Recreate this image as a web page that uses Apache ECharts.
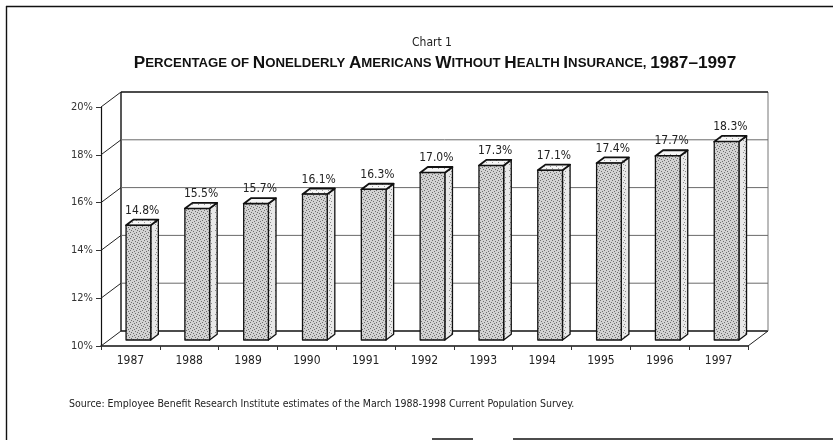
<!DOCTYPE html>
<html>
<head>
<meta charset="utf-8">
<script src="https://cdn.jsdelivr.net/npm/echarts@6/dist/echarts.min.js"></script>
<style>
  html, body { margin: 0; padding: 0; background: #fff; }
  #chart { width: 833px; height: 440px; }
</style>
</head>
<body>
<div id="chart"></div>
<script>
// ---- data ----
const years = ['1987','1988','1989','1990','1991','1992','1993','1994','1995','1996','1997'];
const uninsuredPct = [14.8, 15.5, 15.7, 16.1, 16.3, 17.0, 17.3, 17.1, 17.4, 17.7, 18.3];
const yTicks = [10, 12, 14, 16, 18, 20];
const chartLabel = 'Chart 1';
const titleWords = ['Percentage', 'of', 'Nonelderly', 'Americans', 'Without', 'Health', 'Insurance,', '1987–1997'];
const sourceNote = 'Source: Employee Benefit Research Institute estimates of the March 1988-1998 Current Population Survey.';

// ---- styling helpers ----
const NARROW = "'Liberation Sans Narrow', 'DejaVu Sans Condensed', 'Liberation Sans', sans-serif";
const DEPTH = [20, -15];          // wall depth offset (front plane -> back wall)
const BAR_FRONT = 0.4;            // bar front face position within depth
const BAR_DEPTH = 0.38;           // bar depth as share of wall depth

function makePattern(bg, dot, step) {
  const c = document.createElement('canvas');
  c.width = 6; c.height = 6;
  const g = c.getContext('2d');
  g.fillStyle = bg; g.fillRect(0, 0, 6, 6);
  g.fillStyle = dot;
  const pts = [[0,0],[3,1],[1,3],[4,4],[5,2],[2,5]];
  for (let k = 0; k < pts.length; k += step) g.fillRect(pts[k][0], pts[k][1], 1, 1);
  return { image: c, repeat: 'repeat' };
}
const frontFill = makePattern('#d2d2d2', '#6e6e6e', 1);
const sideFill = makePattern('#e8e8e8', '#8a8a8a', 2);
const topFill = makePattern('#f6f6f6', '#999999', 3);

// small-caps title as rich text
function smallCaps(words) {
  return words.map(w => {
    if (/^[0-9]/.test(w)) return '{c|' + w + '}';
    if (w === 'of') return '{s|' + w.toUpperCase() + '}';
    return '{c|' + w[0] + '}{s|' + w.slice(1).toUpperCase() + '}';
  }).join('{s| }');
}

const chart = echarts.init(document.getElementById('chart'), null, { renderer: 'canvas' });

const option = {
  animation: false,
  backgroundColor: '#ffffff',
  title: [
    {
      text: chartLabel, left: 427, top: 32, textAlign: 'center',
      textStyle: { fontFamily: NARROW, fontSize: 12, fontWeight: 'normal', color: '#222' }
    },
    {
      text: smallCaps(titleWords), left: 430, top: 50, textAlign: 'center',
      textStyle: {
        rich: {
          c: { fontFamily: "'Liberation Sans', Arial, sans-serif", fontSize: 17.2, fontWeight: 'bold', color: '#111' },
          s: { fontFamily: "'Liberation Sans', Arial, sans-serif", fontSize: 13.2, fontWeight: 'bold', color: '#111' }
        }
      }
    }
  ],
  grid: { left: 101, top: 107, width: 647, height: 239, containLabel: false },
  xAxis: {
    type: 'category',
    data: years,
    boundaryGap: true,
    axisLine: { show: true, lineStyle: { color: '#111', width: 1.5 } },
    axisTick: { show: true, length: 4, lineStyle: { color: '#333' } },
    axisLabel: { margin: 9, fontFamily: NARROW, fontSize: 12, color: '#222' },
    splitLine: { show: false }
  },
  yAxis: {
    type: 'value',
    min: 10, max: 20, interval: 2,
    axisLine: { show: true, lineStyle: { color: '#111', width: 1.2 } },
    axisTick: { show: true, length: 5, lineStyle: { color: '#333' } },
    axisLabel: { margin: 8, fontFamily: NARROW, fontSize: 11, color: '#333', formatter: '{value}%' },
    splitLine: { show: false }
  },
  series: [
    {
      // 3D walls: back wall gridlines + side-wall diagonals, driven by tick values
      type: 'custom',
      name: 'walls',
      clip: false,
      silent: true,
      z: 1,
      data: yTicks.map(v => [0, v]),
      renderItem: function (params, api) {
        const v = api.value(1);
        const bw = api.size([1, 0])[0];
        const pL = api.coord([0, v]);
        const pR = api.coord([years.length - 1, v]);
        const xL = pL[0] - bw / 2, xR = pR[0] + bw / 2, y = pL[1];
        const bxL = xL + DEPTH[0], bxR = xR + DEPTH[0], by = y + DEPTH[1];
        const isEdge = (v === yTicks[0] || v === yTicks[yTicks.length - 1]);
        const children = [
          { type: 'line', shape: { x1: xL, y1: y, x2: bxL, y2: by },
            style: { stroke: '#222', lineWidth: 1 } },
          { type: 'line', shape: { x1: bxL, y1: by, x2: bxR, y2: by },
            style: { stroke: isEdge ? '#111' : '#6a6a6a', lineWidth: isEdge ? 1.4 : 1 } }
        ];
        if (v === yTicks[0]) {
          const topY = api.coord([0, yTicks[yTicks.length - 1]])[1] + DEPTH[1];
          children.push(
            { type: 'line', shape: { x1: xR, y1: y, x2: bxR, y2: by }, style: { stroke: '#222', lineWidth: 1 } },
            { type: 'line', shape: { x1: bxL, y1: by, x2: bxL, y2: topY }, style: { stroke: '#111', lineWidth: 1.4 } },
            { type: 'line', shape: { x1: bxR, y1: by, x2: bxR, y2: topY }, style: { stroke: '#777', lineWidth: 1 } }
          );
        }
        return { type: 'group', children: children };
      }
    },
    {
      // 3D bars
      type: 'custom',
      name: 'uninsured',
      clip: false,
      z: 5,
      data: uninsuredPct.map((v, i) => [i, v]),
      renderItem: function (params, api) {
        const i = api.value(0), v = api.value(1);
        const bw = api.size([1, 0])[0];
        const w = bw * 0.42;
        const base = api.coord([i, yTicks[0]]);
        const top = api.coord([i, v]);
        const ox = DEPTH[0] * BAR_FRONT, oy = DEPTH[1] * BAR_FRONT;
        const dx = DEPTH[0] * BAR_DEPTH, dy = DEPTH[1] * BAR_DEPTH;
        const xl = base[0] - w / 2 + ox, xr = xl + w;
        const yb = base[1] + oy, yt = top[1] + oy;
        const stroke = { stroke: '#111', lineWidth: 1.3, lineJoin: 'round' };
        return {
          type: 'group',
          children: [
            { type: 'polygon', shape: { points: [[xr, yt], [xr + dx, yt + dy], [xr + dx, yb + dy], [xr, yb]] },
              style: Object.assign({ fill: sideFill }, stroke) },
            { type: 'polygon', shape: { points: [[xl, yt], [xl + dx, yt + dy], [xr + dx, yt + dy], [xr, yt]] },
              style: Object.assign({ fill: topFill }, stroke, { lineWidth: 1.8 }) },
            { type: 'rect', shape: { x: xl, y: yt, width: w, height: yb - yt },
              style: Object.assign({ fill: frontFill }, stroke) },
            { type: 'text', x: (xl + xr + dx) / 2, y: yt + dy - 3,
              style: { text: v.toFixed(1) + '%', align: 'center', verticalAlign: 'bottom',
                       fontFamily: NARROW, fontSize: 12, fill: '#222' } }
          ]
        };
      }
    }
  ],
  graphic: [
    { type: 'text', left: 69, top: 399,
      style: { text: sourceNote, fontFamily: NARROW, fontSize: 10.5, fill: '#222' } },
    { type: 'line', shape: { x1: 6, y1: 6.5, x2: 833, y2: 6.5 }, style: { stroke: '#111', lineWidth: 1.6 } },
    { type: 'line', shape: { x1: 6.5, y1: 6, x2: 6.5, y2: 440 }, style: { stroke: '#111', lineWidth: 1.4 } },
    { type: 'line', shape: { x1: 432, y1: 439, x2: 473, y2: 439 }, style: { stroke: '#111', lineWidth: 1.4 } },
    { type: 'line', shape: { x1: 513, y1: 439, x2: 833, y2: 439 }, style: { stroke: '#111', lineWidth: 1.4 } }
  ]
};

chart.setOption(option);
</script>
</body>
</html>
